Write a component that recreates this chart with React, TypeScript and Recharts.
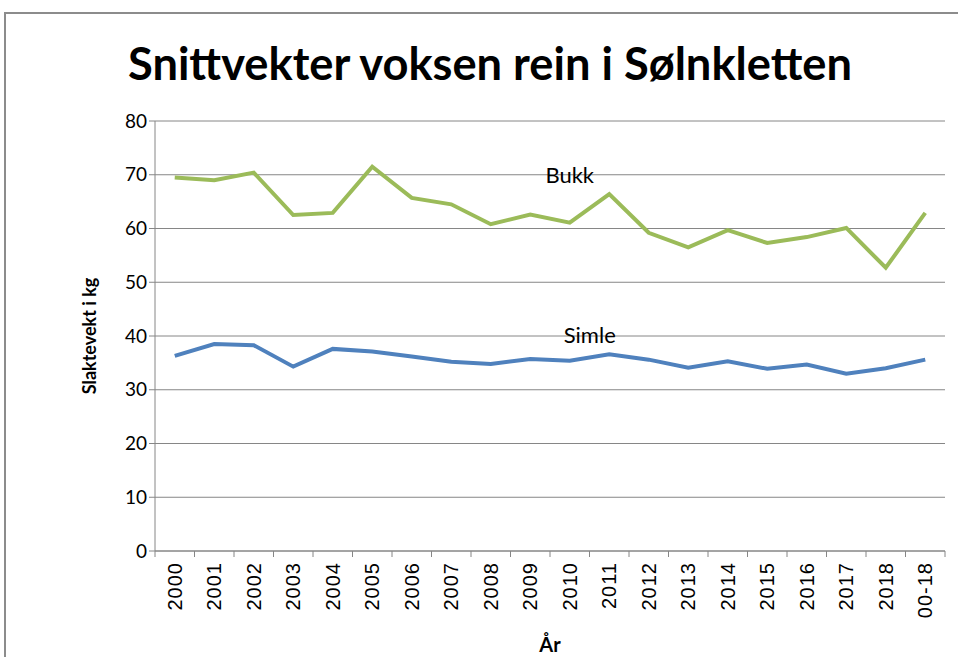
import { LineChart, Line, XAxis, YAxis, CartesianGrid, ReferenceDot } from 'recharts'

const years = ['2000', '2001', '2002', '2003', '2004', '2005', '2006', '2007', '2008', '2009',
  '2010', '2011', '2012', '2013', '2014', '2015', '2016', '2017', '2018', '00-18']
const bukk = [69.5, 69.0, 70.4, 62.5, 62.9, 71.5, 65.7, 64.5, 60.8, 62.6,
  61.1, 66.4, 59.2, 56.5, 59.7, 57.3, 58.4, 60.1, 52.7, 62.9]
const simle = [36.3, 38.5, 38.3, 34.3, 37.6, 37.1, 36.2, 35.2, 34.8, 35.7,
  35.4, 36.6, 35.6, 34.1, 35.3, 33.9, 34.7, 33.0, 34.0, 35.6]
const yTicks = [0, 10, 20, 30, 40, 50, 60, 70, 80]

const data = years.map((ar, i) => ({ ar, bukk: bukk[i], simle: simle[i] }))

const GRID = '#868686'

// year label plus Excel-style tick marks between the categories
function YearTick({ x, y, payload, index, width, visibleTicksCount }: any) {
  const half = width / visibleTicksCount / 2
  const last = index === visibleTicksCount - 1
  return (
    <g transform={`translate(${x},${y})`}>
      <line x1={-half} x2={-half} y1={0} y2={6} stroke={GRID} />
      {last && <line x1={half} x2={half} y1={0} y2={6} stroke={GRID} />}
      <text
        transform="rotate(-90)"
        textAnchor="end"
        x={-11}
        dy={7}
        fontSize={20}
        letterSpacing={1}
        fontFamily="'Liberation Sans', Arial, sans-serif"
        fill="#000"
      >
        {payload.value}
      </text>
    </g>
  )
}

export default function App() {
  return (
    <div style={s.wrap}>
      <div style={s.frame} />
      <svg width={958} height={110} style={s.titleSvg}>
        <text
          x={128}
          y={80}
          textLength={724}
          lengthAdjust="spacingAndGlyphs"
          fontSize={46}
          fontWeight="bold"
          fontFamily="'Liberation Sans Narrow', Lato, sans-serif"
          fill="#000"
        >
          Snittvekter voksen rein i Sølnkletten
        </text>
      </svg>
      <LineChart
        width={958}
        height={657}
        data={data}
        margin={{ top: 121, right: 13, bottom: 0, left: 0 }}
        style={{ position: 'absolute', left: 0, top: 0 }}
      >
        <CartesianGrid vertical={false} stroke={GRID} strokeWidth={1} />
        <XAxis
          dataKey="ar"
          scale="band"
          axisLine={{ stroke: GRID }}
          tickLine={false}
          tickSize={0}
          tickMargin={0}
          interval={0}
          height={106}
          tick={<YearTick />}
          label={{ value: 'År', position: 'center', dy: 41, fontSize: 20, fontWeight: 'bold', fill: '#000', fontFamily: 'Lato, sans-serif' }}
        />
        <YAxis
          width={155}
          domain={[0, 80]}
          ticks={yTicks}
          tickSize={6}
          tickLine={{ stroke: GRID }}
          axisLine={{ stroke: GRID }}
          tick={{ fontSize: 19, fill: '#000', fontFamily: 'Lato, sans-serif' }}
          label={{ value: 'Slaktevekt i kg', angle: -90, position: 'center', dx: 12, fontSize: 18, fontWeight: 'bold', fill: '#000', fontFamily: 'Lato, sans-serif' }}
        />
        <Line
          dataKey="bukk"
          stroke="#9BBB59"
          strokeWidth={4}
          dot={false}
          isAnimationActive={false}
        />
        <Line
          dataKey="simle"
          stroke="#4F81BD"
          strokeWidth={4}
          dot={false}
          isAnimationActive={false}
        />
        <ReferenceDot
          x="2010"
          y={70}
          r={1}
          fill="none"
          stroke="none"
          label={{ value: 'Bukk', position: 'center', fontSize: 22, fill: '#000', fontFamily: 'Lato, sans-serif' }}
        />
        <ReferenceDot
          x="2010"
          y={40.2}
          r={1}
          fill="none"
          stroke="none"
          label={{ value: 'Simle', position: 'center', dx: 20, fontSize: 22, fill: '#000', fontFamily: 'Lato, sans-serif' }}
        />
      </LineChart>
    </div>
  )
}

const s: Record<string, React.CSSProperties> = {
  wrap: {
    position: 'absolute',
    left: 0,
    top: 0,
    width: 958,
    height: 657,
    overflow: 'hidden',
    background: '#fff',
  },
  frame: {
    position: 'absolute',
    left: 4,
    top: 12,
    width: 1000,
    height: 700,
    borderTop: '2px solid #8c8c8c',
    borderLeft: '2px solid #8c8c8c',
  },
  titleSvg: {
    position: 'absolute',
    left: 0,
    top: 0,
  },
}
